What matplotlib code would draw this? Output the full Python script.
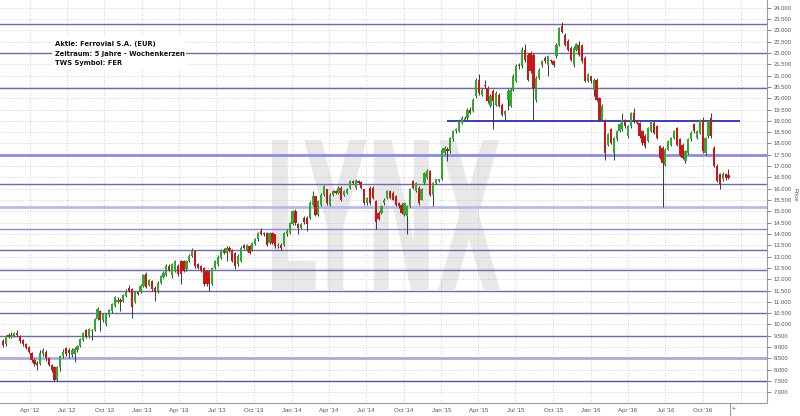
import datetime as dt
import numpy as np
import matplotlib
matplotlib.use("Agg")
import matplotlib.pyplot as plt
import matplotlib.dates as mdates
from matplotlib.textpath import TextPath
from matplotlib.font_manager import FontProperties
from matplotlib.patches import PathPatch, Rectangle
from matplotlib.transforms import Affine2D
from matplotlib.lines import Line2D

# ---------------- data (weekly candles, EUR) ----------------
start_date = dt.date(2012, 1, 27)

opens = [
    9.25, 9.15, 9.55, 9.45, 9.5, 9.6, 9.5, 9.3, 9.15, 9.0,
    8.75, 8.45, 8.3, 8.25, 8.7, 8.8, 8.5, 8.2, 8.1, 7.55,
    8.1, 8.6, 8.95, 8.85, 8.65, 8.7, 8.85, 9.05, 9.3, 9.75,
    9.45, 9.7, 9.75, 10.25, 10.6, 10.2, 10.0, 10.4, 10.6, 10.8,
    11.0, 11.1, 11.05, 11.25, 11.63, 11.55, 11.0, 11.45, 11.45, 11.7,
    12.25, 11.75, 11.92, 11.62, 11.5, 11.84, 12.1, 12.2, 12.58, 12.2,
    12.35, 12.58, 12.8, 12.8, 12.43, 12.8, 13.02, 13.24, 12.65, 12.58,
    12.5, 12.36, 12.36, 11.8, 12.5, 12.65, 12.95, 13.31, 13.17, 13.38,
    13.3, 13.17, 12.65, 12.8, 13.5, 13.3, 13.45, 13.3, 13.55, 13.76,
    14.15, 14.05, 14.05, 13.6, 14.05, 13.98, 13.46, 13.53, 13.53, 13.98,
    14.05, 14.45, 15.0, 14.42, 14.27, 14.72, 14.72, 14.72, 15.3, 15.67,
    14.86, 15.3, 15.74, 15.97, 15.3, 15.74, 15.89, 15.82, 16.04, 15.74,
    15.82, 16.04, 16.33, 16.04, 16.33, 16.3, 15.97, 15.38, 16.04, 16.04,
    15.45, 14.94, 14.94, 15.38, 15.6, 15.89, 15.82, 15.67, 15.38, 15.3,
    14.86, 14.79, 15.23, 16.33, 15.89, 16.04, 15.52, 16.26, 16.48, 16.77,
    15.74, 16.26, 16.33, 16.41, 17.6, 17.75, 17.66, 18.18, 18.54, 18.54,
    18.91, 19.06, 19.13, 19.5, 19.42, 20.09, 20.82, 20.16, 20.6, 20.46,
    19.65, 20.31, 19.72, 20.16, 19.72, 19.28, 19.94, 19.65, 20.38, 20.75,
    21.48, 21.41, 22.15, 21.93, 22.0, 21.93, 19.94, 20.9, 21.48, 21.78,
    21.48, 21.7, 21.63, 21.85, 22.37, 23.18, 22.81, 22.51, 22.22, 21.48,
    22.15, 22.37, 22.37, 21.78, 20.75, 20.97, 20.38, 20.82, 20.0, 19.06,
    19.0, 17.95, 18.62, 17.59, 18.18, 18.54, 18.62, 19.06, 18.32, 18.76,
    19.35, 19.0, 18.91, 18.54, 18.32, 18.1, 18.54, 18.91, 18.76, 17.88,
    17.81, 17.07, 17.73, 17.95, 18.25, 18.69, 18.18, 17.95, 17.22, 17.59,
    18.18, 18.84, 18.25, 18.47, 19.06, 17.59, 18.32, 19.13, 17.81, 17.0,
    16.63, 16.41, 16.63, 16.59,
]

highs = [
    9.35, 9.55, 9.62, 9.65, 9.68, 9.75, 9.55, 9.35, 9.2, 9.05,
    8.8, 8.5, 8.4, 8.85, 8.95, 8.85, 8.55, 8.25, 8.15, 8.15,
    8.65, 8.9, 9.0, 8.95, 8.95, 9.0, 9.1, 9.4, 9.65, 9.8,
    9.85, 9.8, 10.3, 10.75, 10.65, 10.5, 10.5, 10.7, 10.95, 11.25,
    11.2, 11.15, 11.35, 11.55, 11.75, 11.6, 11.5, 11.5, 11.8, 12.25,
    12.3, 12.0, 11.98, 11.7, 11.9, 12.2, 12.35, 12.65, 12.65, 12.7,
    12.85, 12.65, 12.85, 12.85, 12.85, 13.1, 13.4, 13.3, 12.7, 12.62,
    12.55, 12.4, 12.4, 12.55, 12.85, 13.05, 13.35, 13.4, 13.45, 13.45,
    13.35, 13.2, 13.1, 13.45, 13.55, 13.55, 13.5, 13.65, 13.8, 14.1,
    14.27, 14.1, 14.1, 14.1, 14.1, 14.02, 13.6, 13.58, 14.1, 14.2,
    14.55, 15.08, 15.1, 14.5, 14.5, 14.8, 14.8, 15.45, 15.89, 15.7,
    15.5, 15.8, 16.15, 16.0, 15.8, 15.95, 15.95, 16.1, 16.1, 15.95,
    16.05, 16.4, 16.4, 16.45, 16.38, 16.35, 16.0, 15.65, 16.1, 16.1,
    15.5, 15.0, 15.3, 15.58, 15.95, 15.95, 15.88, 15.72, 15.42, 15.35,
    15.42, 15.3, 16.02, 16.4, 16.3, 16.1, 16.02, 16.75, 16.85, 16.82,
    16.3, 16.45, 16.45, 17.8, 17.9, 17.85, 18.3, 18.6, 18.7, 19.05,
    19.2, 19.2, 19.55, 19.6, 20.0, 20.9, 21.07, 20.45, 20.8, 20.55,
    20.2, 20.4, 20.3, 20.25, 19.8, 19.5, 20.4, 20.45, 21.05, 21.5,
    21.55, 22.25, 22.4, 22.0, 22.1, 22.0, 21.0, 21.35, 21.7, 21.85,
    21.9, 21.75, 21.7, 22.45, 23.15, 23.37, 22.88, 22.6, 22.3, 22.3,
    22.45, 22.51, 22.4, 21.85, 21.1, 21.0, 20.9, 20.9, 20.05, 19.75,
    19.1, 18.45, 18.7, 18.3, 18.6, 18.9, 19.35, 19.1, 18.8, 19.4,
    19.57, 19.06, 18.95, 18.6, 18.4, 18.75, 19.05, 18.98, 18.8, 17.95,
    17.88, 17.8, 18.15, 18.3, 18.6, 18.75, 18.25, 18.0, 17.7, 18.25,
    18.55, 18.9, 18.6, 19.1, 19.15, 18.3, 19.06, 19.35, 17.88, 17.1,
    16.7, 16.75, 16.7, 16.88,
]

lows = [
    9.0, 9.05, 9.38, 9.4, 9.45, 9.45, 9.2, 9.05, 8.92, 8.72,
    8.35, 8.15, 8.0, 8.2, 8.6, 8.4, 8.15, 7.9, 7.5, 7.5,
    7.95, 8.5, 8.6, 8.5, 8.55, 8.35, 8.8, 9.0, 9.25, 9.4,
    9.4, 9.3, 9.7, 10.2, 9.72, 10.1, 9.95, 10.35, 10.5, 10.75,
    10.95, 10.6, 11.0, 11.2, 11.45, 10.3, 10.95, 11.3, 11.4, 11.65,
    11.6, 11.7, 11.5, 11.03, 11.4, 11.8, 12.05, 12.15, 12.35, 12.06,
    12.3, 12.15, 11.77, 12.3, 12.38, 12.75, 12.98, 12.5, 12.45, 12.3,
    11.7, 11.7, 11.48, 11.75, 12.45, 12.6, 12.9, 13.1, 12.8, 13.2,
    12.75, 12.43, 12.6, 12.75, 13.35, 13.25, 13.1, 13.25, 13.5, 13.7,
    13.95, 13.9, 13.45, 13.55, 13.55, 13.4, 13.4, 13.3, 13.45, 13.9,
    14.0, 14.4, 14.4, 13.98, 14.2, 14.45, 14.13, 14.65, 15.25, 14.8,
    14.8, 15.25, 15.7, 15.3, 15.25, 15.7, 15.75, 15.78, 15.45, 15.7,
    15.78, 16.0, 16.2, 16.0, 16.2, 15.98, 15.3, 15.3, 15.3, 15.55,
    14.23, 14.6, 14.9, 15.3, 15.55, 15.55, 15.48, 15.25, 15.15, 14.88,
    14.8, 13.98, 15.2, 16.0, 15.85, 15.3, 15.48, 16.2, 16.45, 15.7,
    15.23, 16.2, 16.3, 16.38, 17.55, 17.22, 17.6, 18.1, 18.45, 18.5,
    18.85, 19.0, 19.05, 19.3, 19.38, 20.0, 20.15, 20.1, 20.45, 19.8,
    19.6, 18.62, 19.65, 19.6, 19.2, 19.0, 19.5, 19.6, 20.3, 20.7,
    21.3, 21.35, 21.6, 20.75, 21.1, 19.01, 19.85, 20.85, 21.4, 21.55,
    20.97, 21.55, 21.4, 21.8, 22.3, 22.9, 22.3, 22.1, 21.65, 21.4,
    22.1, 21.88, 21.55, 20.7, 20.7, 20.68, 20.1, 19.87, 19.0, 19.0,
    17.29, 17.9, 17.98, 17.29, 18.1, 18.5, 18.55, 18.7, 18.25, 18.7,
    18.9, 18.85, 18.25, 17.95, 17.8, 18.05, 18.5, 18.4, 18.2, 17.3,
    15.2, 17.0, 17.7, 17.9, 18.2, 17.9, 17.45, 17.3, 17.15, 17.55,
    18.1, 18.45, 18.2, 18.4, 17.6, 17.5, 18.25, 18.25, 16.95, 16.3,
    15.97, 16.35, 16.4, 16.45,
]

closes = [
    9.08, 9.5, 9.45, 9.55, 9.6, 9.52, 9.25, 9.15, 8.98, 8.78,
    8.42, 8.25, 8.22, 8.75, 8.85, 8.5, 8.2, 8.0, 7.55, 8.1,
    8.6, 8.8, 8.7, 8.72, 8.85, 8.9, 9.05, 9.35, 9.6, 9.45,
    9.8, 9.72, 10.25, 10.7, 10.2, 10.45, 10.45, 10.65, 10.9, 11.2,
    11.1, 11.0, 11.3, 11.5, 11.5, 10.75, 11.45, 11.35, 11.7, 12.2,
    11.65, 11.95, 11.55, 11.42, 11.84, 12.14, 12.28, 12.58, 12.4, 12.65,
    12.8, 12.21, 12.21, 12.36, 12.8, 13.02, 13.3, 12.58, 12.51, 12.36,
    11.77, 11.77, 11.77, 12.5, 12.8, 13.0, 13.3, 13.17, 13.38, 13.25,
    12.8, 12.58, 13.02, 13.4, 13.4, 13.5, 13.17, 13.6, 13.76, 14.05,
    14.0, 13.98, 13.53, 14.05, 13.6, 13.46, 13.53, 13.39, 14.05, 14.12,
    14.49, 15.0, 14.5, 14.27, 14.42, 14.52, 14.42, 15.38, 15.67, 14.86,
    15.45, 15.74, 16.11, 15.38, 15.74, 15.89, 15.82, 16.04, 15.52, 15.89,
    15.97, 16.33, 16.26, 16.38, 16.26, 16.04, 15.38, 15.6, 15.38, 15.6,
    14.52, 14.64, 15.23, 15.52, 15.89, 15.6, 15.52, 15.3, 15.23, 14.94,
    15.38, 15.23, 15.97, 16.04, 16.26, 15.38, 15.97, 16.7, 16.77, 15.74,
    16.26, 16.41, 16.41, 17.73, 17.81, 17.66, 18.25, 18.54, 18.62, 18.98,
    19.13, 19.13, 19.5, 19.35, 19.94, 20.82, 20.23, 20.38, 20.53, 19.87,
    20.09, 19.87, 20.23, 19.65, 19.28, 19.42, 20.31, 20.38, 20.97, 21.41,
    21.41, 22.15, 21.7, 20.82, 21.19, 20.46, 20.9, 21.26, 21.63, 21.63,
    21.85, 21.63, 21.48, 22.37, 23.1, 22.95, 22.37, 22.15, 21.7, 22.22,
    22.4, 21.93, 21.63, 20.75, 21.05, 20.75, 20.82, 19.94, 19.06, 19.65,
    17.59, 18.4, 18.03, 18.25, 18.54, 18.84, 19.06, 18.76, 18.76, 19.35,
    18.98, 18.91, 18.32, 18.03, 17.88, 18.69, 18.98, 18.47, 18.25, 17.37,
    17.15, 17.73, 18.1, 18.25, 18.54, 17.95, 17.51, 17.37, 17.66, 18.18,
    18.47, 18.54, 18.54, 19.06, 17.66, 18.25, 18.98, 18.32, 17.0, 16.34,
    16.19, 16.63, 16.48, 16.48,
]

# horizontal support / resistance levels
sr_levels = [23.28, 22.0, 20.45, 17.5, 16.23, 15.2, 14.22, 13.27, 12.4, 11.5, 10.5, 9.5, 8.5, 7.5]
key_level = 19.0
key_level_span = (dt.date(2015, 1, 14), dt.date(2016, 12, 30))

y_ticks = list(np.arange(7.0, 24.01, 0.5))
x_tick_dates = [dt.date(y, m, 1) for y in range(2012, 2018) for m in (1, 4, 7, 10)]

info_lines = ["Aktie: Ferrovial S.A. (EUR)",
              "Zeitraum: 5 Jahre - Wochenkerzen",
              "TWS Symbol: FER"]

# ---------------- figure ----------------
W, H = 800, 416
fig = plt.figure(figsize=(W / 100, H / 100), dpi=100)
fig.patch.set_facecolor("white")
ax = fig.add_axes([0, 13 / H, 767 / W, 403 / H])
ax.set_facecolor("white")

x0 = mdates.date2num(dt.date(2012, 1, 20))
x1 = mdates.date2num(dt.date(2017, 3, 6))

# watermark
fp = FontProperties(family="DejaVu Sans", weight="bold")
tp = TextPath((0, 0), "LYNX", size=1, prop=fp)
bb = tp.get_extents()
sx = (500 - 272) / W / bb.width
sy = (290 - 140) / H / bb.height
tr = (Affine2D().translate(-bb.x0, -bb.y0).scale(sx, sy)
      .translate(272 / W, (H - 290) / H) + fig.transFigure)
ax.add_patch(PathPatch(tp, transform=tr, facecolor="#e8e8e8",
                       edgecolor="none", zorder=0.5))

# grid
for yv in y_ticks:
    ax.axhline(yv, color="#c4c4c4", lw=0.6, ls=(0, (1, 2)), zorder=1)
for d in x_tick_dates:
    xv = mdates.date2num(d)
    if x0 < xv < x1:
        ax.axvline(xv, color="#c4c4c4", lw=0.6, ls=(0, (1, 2)), zorder=1)

# support / resistance lines
styles = {17.5: ("#8a8ae8", 2.0), 15.2: ("#b8b8ec", 2.0), 8.5: ("#aaaadf", 2.0),
          14.22: ("#8a8acc", 1.0), 7.5: ("#55559a", 1.0)}
for lv in sr_levels:
    col, lw = styles.get(lv, ("#6a6aae", 1.0))
    ax.axhline(lv, color=col, lw=lw, zorder=2)
ax.hlines(key_level, mdates.date2num(key_level_span[0]),
          mdates.date2num(key_level_span[1]), color="#2b2bcc", lw=1.3, zorder=2)

# candles
o = np.array(opens); h = np.array(highs); l = np.array(lows); c = np.array(closes)
dates = [start_date + dt.timedelta(days=7 * i) for i in range(len(c))]
xd = mdates.date2num(dates)
up = c >= o
colors = np.where(up, "#2eaa2e", "#cc1616")
ax.vlines(xd, l, h, color="#3a3a3a", lw=0.7, zorder=3)
body = np.maximum(np.abs(c - o), 0.04)
ax.bar(xd, body, bottom=np.minimum(o, c), width=5.4, color=colors,
       linewidth=0, zorder=4)

ax.set_xlim(x0, x1)
ax.set_ylim(6.527, 24.343)

# axes styling
for s in ("left", "top"):
    ax.spines[s].set_visible(False)
for s in ("right", "bottom"):
    ax.spines[s].set_color("#9a9a9a")
    ax.spines[s].set_linewidth(0.8)

ax.yaxis.tick_right()
ax.set_yticks(y_ticks)
ax.set_yticklabels([f"{v:.3f}" for v in y_ticks], fontfamily="Liberation Sans")
ax.tick_params(axis="y", labelsize=4.2, colors="#555555", length=3, width=0.5, pad=1.5)

xt = [mdates.date2num(d) for d in x_tick_dates if x0 < mdates.date2num(d) < x1]
xl = [d.strftime("%b '%y") for d in x_tick_dates if x0 < mdates.date2num(d) < x1]
xl = [lab if not lab.startswith("Jan '17") else "" for lab in xl]
ax.set_xticks(xt)
ax.set_xticklabels(xl, fontfamily="Liberation Sans")
ax.tick_params(axis="x", labelsize=4.4, colors="#555555", length=0, pad=3.5)

# info box
ax.add_patch(Rectangle((52 / W, 1 - 69 / H), 134 / W, 32 / H, transform=fig.transFigure,
                       facecolor="white", edgecolor="none", zorder=6))
for k, line in enumerate(info_lines):
    ax.text(55 / W, 1 - (44 + 9.7 * k) / H, line, transform=fig.transFigure,
            fontsize=4.85, fontweight="bold", family="DejaVu Sans",
            color="#111111", va="center", ha="left", zorder=7)

# right axis label and bottom extras
fig.text(795.5 / W, 1 - 195 / H, "Price", rotation=270, fontsize=4.2,
         color="#555555", ha="center", va="center", family="Liberation Sans")
fig.add_artist(Line2D([730 / W, 730 / W], [0, 13 / H], color="#9a9a9a", lw=0.8))
fig.text(734 / W, 1 - 410 / H, "+", fontsize=5, color="#666666",
         ha="center", va="center", family="Liberation Sans")

fig.savefig("out.png", dpi=100)
